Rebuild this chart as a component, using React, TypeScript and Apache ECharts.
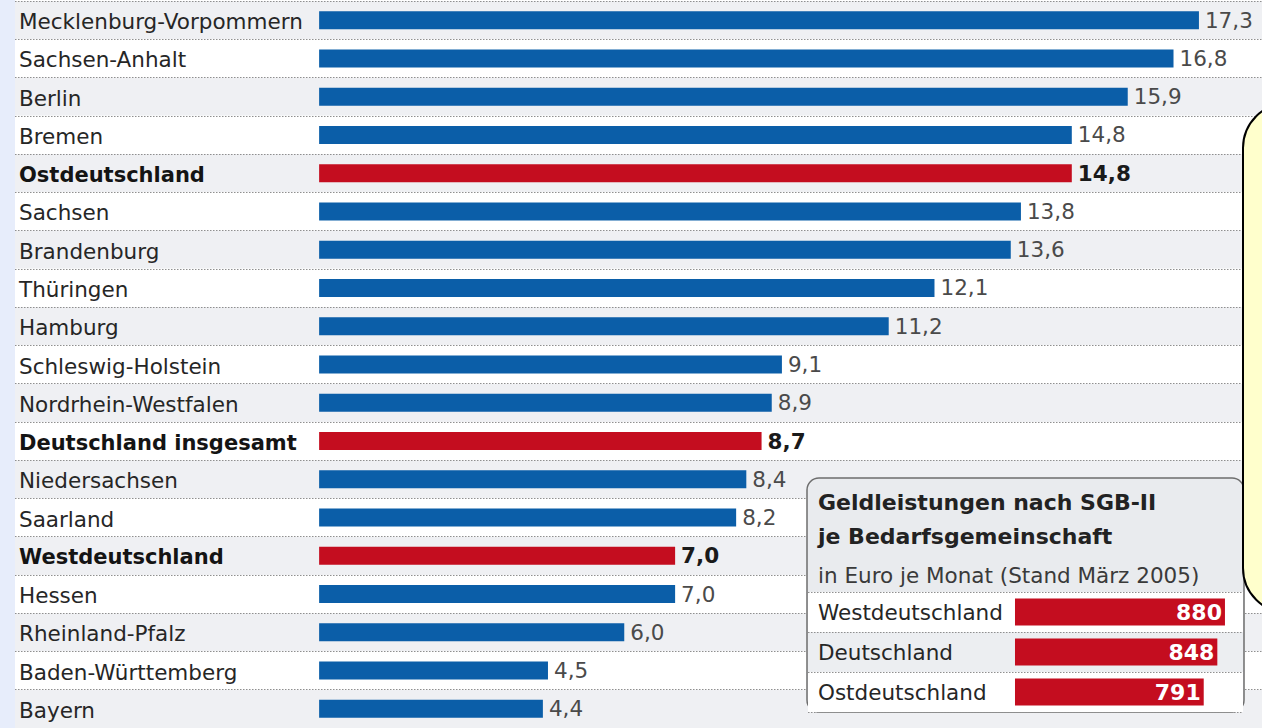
import React, { useEffect, useRef } from "react";
import * as echarts from "echarts";

const states = [
  "Mecklenburg-Vorpommern", "Sachsen-Anhalt", "Berlin", "Bremen", "Ostdeutschland",
  "Sachsen", "Brandenburg", "Thüringen", "Hamburg", "Schleswig-Holstein",
  "Nordrhein-Westfalen", "Deutschland insgesamt", "Niedersachsen", "Saarland",
  "Westdeutschland", "Hessen", "Rheinland-Pfalz", "Baden-Württemberg", "Bayern",
];
const quotas = [17.3, 16.8, 15.9, 14.8, 14.8, 13.8, 13.6, 12.1, 11.2, 9.1, 8.9, 8.7, 8.4, 8.2, 7.0, 7.0, 6.0, 4.5, 4.4];
const aggregates = ["Ostdeutschland", "Deutschland insgesamt", "Westdeutschland"];

const insetRegions = ["Westdeutschland", "Deutschland", "Ostdeutschland"];
const insetValues = [880, 848, 791];
const insetTitle = ["Geldleistungen nach SGB-II", "je Bedarfsgemeinschaft"];
const insetSubtitle = "in Euro je Monat (Stand März 2005)";

const FONT = "'DejaVu Sans', sans-serif";
const BLUE = "#0b5ea8";
const RED = "#c40d1f";
const DOTS = { color: "#8f8f8f", width: 1, type: [1.5, 1.5] as any };

export default function App() {
  const ref = useRef<HTMLDivElement>(null);
  useEffect(() => {
    if (!ref.current) return;
    const chart = echarts.init(ref.current, undefined, { renderer: "svg" });
    const fmt = (v: number) => v.toFixed(1).replace(".", ",");
    const mainData = quotas.map((v, i) => {
      const agg = aggregates.includes(states[i]);
      return {
        value: v,
        itemStyle: { color: agg ? RED : BLUE },
        label: { fontWeight: agg ? "bold" : "normal", color: agg ? "#1a1a1a" : "#4a4a4a" },
      };
    });
    chart.setOption({
      animation: false,
      backgroundColor: "#ffffff",
      grid: [
        { left: 15, right: 0, top: 1, height: 19 * 38.46 },
        { left: 808, width: 435, top: 592, height: 120 },
      ],
      xAxis: [
        { type: "value", gridIndex: 0, min: -5.98, max: 18.54, show: false },
        { type: "value", gridIndex: 1, min: -867.5, max: 955.6, show: false },
      ],
      yAxis: [
        {
          type: "category",
          gridIndex: 0,
          data: states,
          inverse: true,
          axisLine: { show: false },
          axisTick: { show: false },
          axisLabel: {
            inside: true,
            align: "left",
            margin: 4,
            formatter: (v: string) => (aggregates.includes(v) ? `{b|${v}}` : `{n|${v}}`),
            rich: {
              b: { fontFamily: FONT, fontSize: 21, fontWeight: "bold", color: "#141414", padding: [3, 0, 0, 0] },
              n: { fontFamily: FONT, fontSize: 21.5, color: "#262626", padding: [3, 0, 0, 0] },
            },
          },
          splitLine: { show: true, lineStyle: DOTS },
          splitArea: { show: true, areaStyle: { color: ["#eff0f3", "#ffffff"] } },
        },
        {
          type: "category",
          gridIndex: 1,
          data: insetRegions,
          inverse: true,
          z: 6,
          axisLine: { show: false },
          axisTick: { show: false },
          axisLabel: {
            inside: true,
            align: "left",
            margin: 10,
            fontFamily: FONT,
            fontSize: 21.5,
            color: "#262626",
          },
          splitLine: { show: true, lineStyle: DOTS },
          splitArea: { show: true, areaStyle: { color: ["#ffffff", "#eceef1"] } },
        },
      ],
      series: [
        {
          type: "bar",
          xAxisIndex: 0,
          yAxisIndex: 0,
          data: mainData,
          barWidth: 18,
          label: {
            show: true,
            position: "right",
            distance: 6,
            fontFamily: FONT,
            fontSize: 21.5,
            formatter: (p: any) => fmt(p.value),
          },
        },
        {
          type: "bar",
          xAxisIndex: 1,
          yAxisIndex: 1,
          z: 7,
          data: insetValues,
          barWidth: 27,
          itemStyle: { color: RED },
          label: {
            show: true,
            position: "insideRight",
            distance: 3,
            fontFamily: FONT,
            fontSize: 22,
            fontWeight: "bold",
            color: "#ffffff",
          },
        },
      ],
      graphic: [
        {
          type: "rect",
          z: 10,
          shape: { x: 0, y: 0, width: 15, height: 728 },
          style: { fill: "#e7edfb" },
        },
        {
          type: "rect",
          z: 5,
          shape: { x: 807, y: 478, width: 437, height: 234, r: 12 },
          style: { fill: "#e9ebee", stroke: "#6e6e6e", lineWidth: 1.5 },
        },
        {
          type: "text",
          z: 7,
          style: { x: 818, y: 502, text: insetTitle[0], fontFamily: FONT, fontSize: 22, fontWeight: "bold", fill: "#222222", verticalAlign: "middle" },
        },
        {
          type: "text",
          z: 7,
          style: { x: 818, y: 536, text: insetTitle[1], fontFamily: FONT, fontSize: 22, fontWeight: "bold", fill: "#222222", verticalAlign: "middle" },
        },
        {
          type: "text",
          z: 7,
          style: { x: 818, y: 575, text: insetSubtitle, fontFamily: FONT, fontSize: 21.5, fill: "#3a3a3a", verticalAlign: "middle" },
        },
        {
          type: "rect",
          z: 20,
          shape: { x: 1243, y: 103, width: 70, height: 510, r: [45, 0, 0, 45] },
          style: { fill: "#ffffcc", stroke: "#000000", lineWidth: 2 },
        },
      ],
    });
    return () => chart.dispose();
  }, []);
  return <div ref={ref} style={{ position: "absolute", left: 0, top: 0, width: 1262, height: 728 }} />;
}
